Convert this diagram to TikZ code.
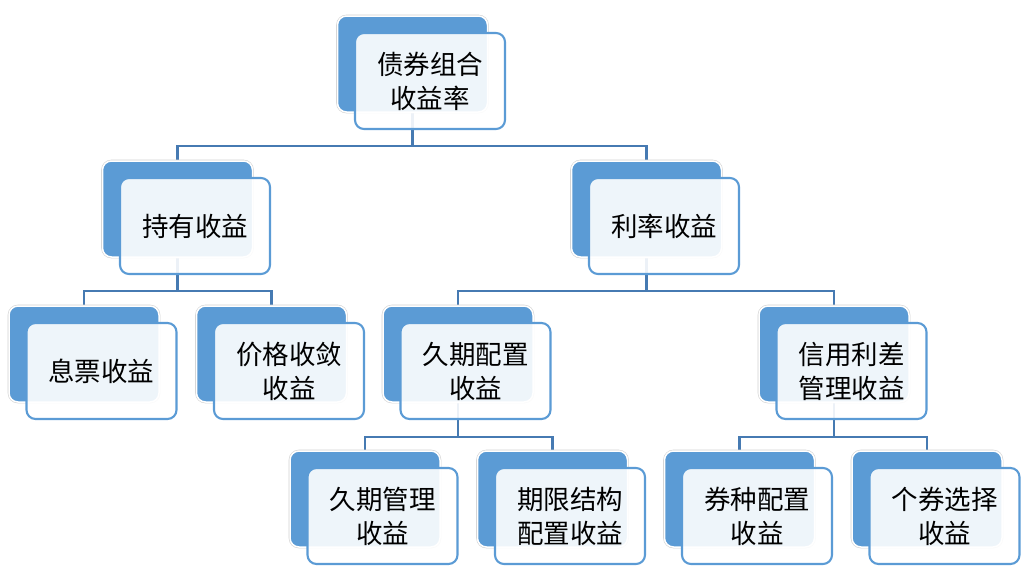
\documentclass[tikz,border=0pt]{standalone}
\usepackage{fontspec}
\newfontfamily\cjk{Noto Sans CJK SC}
\usepackage{tikz}
\usepackage{xcolor}
\usetikzlibrary{backgrounds}
\definecolor{boxblue}{RGB}{91,155,213}
\definecolor{linkblue}{RGB}{70,122,178}
\tikzstyle{back} = [rectangle, rounded corners=9pt, fill=boxblue, draw=white, line width=1.5pt, preaction={draw=black!18, line width=2.6pt}, minimum width=150pt, minimum height=96pt]
\tikzstyle{front} = [rectangle, rounded corners=9pt, draw=boxblue, fill=white, fill opacity=0.9, text opacity=1, line width=2.1pt, minimum width=150pt, minimum height=96pt, align=center, font=\cjk\fontsize{26.5}{34}\selectfont]
\tikzstyle{link} = [draw=linkblue, line width=2.1pt]

\begin{document}
\begin{tikzpicture}[node distance=145pt]
  \useasboundingbox (0,0) rectangle (1026pt,-573pt);
  \node[back] (B_ZH) at (412.5pt,-64pt) {};
  \node[front] (ZH) at ([xshift=17.5pt,yshift=-17pt]B_ZH.center) {债券组合\\收益率};

  \node[back] (B_CY) [below of=B_ZH, xshift=-235pt] {};
  \node[front] (CY) at ([xshift=17.5pt,yshift=-17pt]B_CY.center) {持有收益};
  \node[back] (B_LL) [below of=B_ZH, xshift=234pt] {};
  \node[front] (LL) at ([xshift=17.5pt,yshift=-17pt]B_LL.center) {利率收益};

  \node[back] (B_XP) [below of=B_CY, xshift=-93.5pt] {};
  \node[front] (XP) at ([xshift=17.5pt,yshift=-17pt]B_XP.center) {息票收益};
  \node[back] (B_JG) [below of=B_CY, xshift=94pt] {};
  \node[front] (JG) at ([xshift=17.5pt,yshift=-17pt]B_JG.center) {价格收敛\\收益};
  \node[back] (B_JQ) [below of=B_LL, xshift=-188.5pt] {};
  \node[front] (JQ) at ([xshift=17.5pt,yshift=-17pt]B_JQ.center) {久期配置\\收益};
  \node[back] (B_XY) [below of=B_LL, xshift=187.5pt] {};
  \node[front] (XY) at ([xshift=17.5pt,yshift=-17pt]B_XY.center) {信用利差\\管理收益};

  \node[back] (B_GL) [below of=B_JQ, xshift=-93pt] {};
  \node[front] (GL) at ([xshift=17.5pt,yshift=-17pt]B_GL.center) {久期管理\\收益};
  \node[back] (B_QX) [below of=B_JQ, xshift=94.5pt] {};
  \node[front] (QX) at ([xshift=17.5pt,yshift=-17pt]B_QX.center) {期限结构\\配置收益};
  \node[back] (B_QZ) [below of=B_XY, xshift=-94.5pt] {};
  \node[front] (QZ) at ([xshift=17.5pt,yshift=-17pt]B_QZ.center) {券种配置\\收益};
  \node[back] (B_GQ) [below of=B_XY, xshift=93pt] {};
  \node[front] (GQ) at ([xshift=17.5pt,yshift=-17pt]B_GQ.center) {个券选择\\收益};

  % tree links, kept behind the boxes
  \begin{pgfonlayer}{background}
    \path[link] (B_ZH.center) -- ++(0,-82pt) -| (B_CY.center);
    \path[link] (B_ZH.center) -- ++(0,-82pt) -| (B_LL.center);
    \path[link] (B_CY.center) -- ++(0,-82pt) -| (B_XP.center);
    \path[link] (B_CY.center) -- ++(0,-82pt) -| (B_JG.center);
    \path[link] (B_LL.center) -- ++(0,-82pt) -| (B_JQ.center);
    \path[link] (B_LL.center) -- ++(0,-82pt) -| (B_XY.center);
    \path[link] (B_JQ.center) -- ++(0,-83pt) -| (B_GL.center);
    \path[link] (B_JQ.center) -- ++(0,-83pt) -| (B_QX.center);
    \path[link] (B_XY.center) -- ++(0,-83pt) -| (B_QZ.center);
    \path[link] (B_XY.center) -- ++(0,-83pt) -| (B_GQ.center);
  \end{pgfonlayer}
\end{tikzpicture}
\end{document}
